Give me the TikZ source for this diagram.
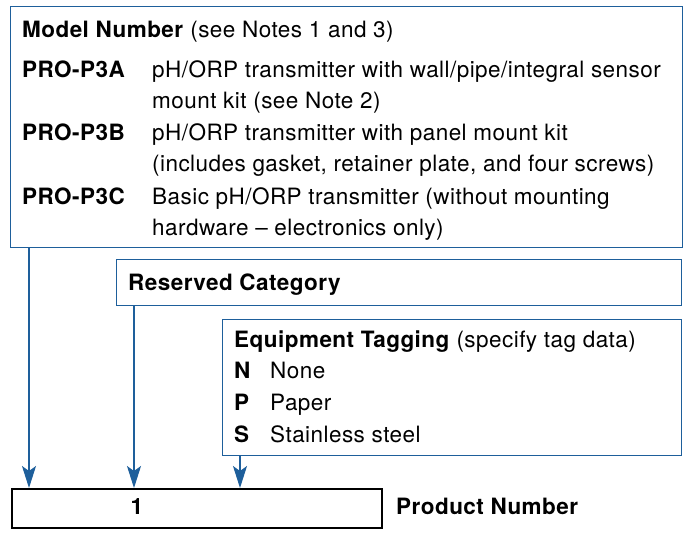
\documentclass[tikz,border=0pt]{standalone}
\usepackage{fontspec}
\setmainfont{TeX Gyre Heros}[LetterSpace=2]
\usetikzlibrary{positioning,arrows.meta}
\definecolor{frameblue}{RGB}{30,95,155}

\begin{document}
\begin{tikzpicture}[x=1pt,y=-1pt,
        box/.style={draw=frameblue,line width=1.3pt,inner sep=0pt,anchor=north west},
        txt/.style={anchor=base west,inner sep=0pt,font=\fontsize{22.5}{27}\selectfont},
        code/.style={txt,font=\fontsize{22.5}{27}\selectfont\bfseries},
        arr/.style={draw=frameblue,line width=1.4pt,-{Stealth[length=22pt,width=14pt,inset=5pt]}}]
        \useasboundingbox (0,0) rectangle (683,533);
        % frames
        \node[box,minimum width=672,minimum height=241] (model) at (10,6) {};
        \node[box,minimum width=565,minimum height=46] (reserved) at (116,259) {};
        \node[box,minimum width=459,minimum height=136] (tagging) at (222,319) {};
        \node[box,draw=black,line width=2.4pt,minimum width=370,minimum height=39] (product) at (11,488) {};
        % model number
        \node[txt] (modelhead) at (22,37.5) {\textbf{Model Number} (see Notes 1 and 3)};
        \node[code] (p3a) at (22,77.5) {PRO-P3A};
        \node[txt] (p3adesc) at (152,77.5) {pH/ORP transmitter with wall/pipe/integral sensor};
        \node[txt] (p3adesc2) at (152,108.5) {mount kit (see Note 2)};
        \node[code] (p3b) at (22,140.5) {PRO-P3B};
        \node[txt] (p3bdesc) at (152,140.5) {pH/ORP transmitter with panel mount kit};
        \node[txt] (p3bdesc2) at (152,171.5) {(includes gasket, retainer plate, and four screws)};
        \node[code] (p3c) at (22,204.5) {PRO-P3C};
        \node[txt] (p3cdesc) at (152,204.5) {Basic pH/ORP transmitter (without mounting};
        \node[txt] (p3cdesc2) at (152,235.5) {hardware -- electronics only)};
        % reserved
        \node[code] (reservedhead) at (128,290.5) {Reserved Category};
        % tagging
        \node[txt] (taghead) at (234,347.5) {\textbf{Equipment Tagging} (specify tag data)};
        \node[code] (tagn) at (234,378.5) {N};
        \node[txt] (tagndesc) at (270,378.5) {None};
        \node[code] (tagp) at (234,410.5) {P};
        \node[txt] (tagpdesc) at (270,410.5) {Paper};
        \node[code] (tags) at (234,442.5) {S};
        \node[txt] (tagsdesc) at (270,442.5) {Stainless steel};
        % product number
        \node[code,anchor=base] (digit) at (137,514.5) {1};
        \node[code] (productlabel) at (396,514.5) {Product Number};
        % arrows
        \coordinate (inmodel) at (29,488);
        \coordinate (inreserved) at (134,488);
        \coordinate (intagging) at (240,488);
        \draw[arr] (model.south -| inmodel) -- (inmodel);
        \draw[arr] (reserved.south -| inreserved) -- (inreserved);
        \draw[arr] (tagging.south -| intagging) -- (intagging);
\end{tikzpicture}
\end{document}
